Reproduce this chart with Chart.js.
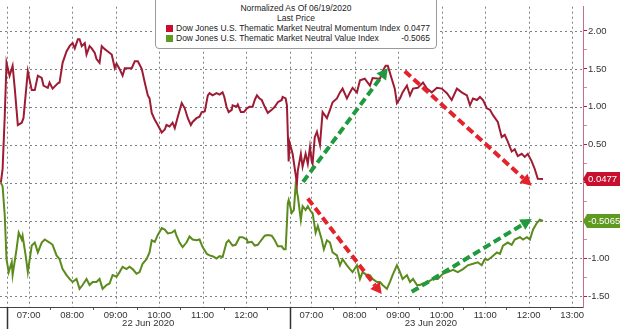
<!DOCTYPE html>
<html>
<head>
<meta charset="utf-8">
<script src="https://cdn.jsdelivr.net/npm/chart.js@4.4.1/dist/chart.umd.min.js"></script>
<style>
  html, body { margin: 0; padding: 0; background: #fff; }
  #wrap { position: relative; width: 620px; height: 329px; overflow: hidden; }
  #legend {
    position: absolute; left: 155px; top: -6px; width: 280px; height: 53px;
    background: #fff; border: 1px solid #9a9a9a; border-radius: 4px;
    font: 8.5px "Liberation Sans", Arial, sans-serif; color: #222;
  }
  #legend .t { text-align: center; line-height: 10px; }
  #legend .t:first-child { margin-top: 8px; }
  #legend .row { display: flex; align-items: center; line-height: 10px; margin-left: 10px; }
  #legend .sw { width: 7px; height: 7px; margin-right: 3px; }
  #legend .val { margin-left: auto; margin-right: 6px; }
</style>
</head>
<body>
<div id="wrap">
  <canvas id="chart" width="620" height="329"></canvas>
  <div id="legend"></div>
</div>
<script>
// series (clock time in hours, value) -- 22 Jun then 23 Jun
const momentum22 = [
  [6.36,0.00],[6.40,0.18],[6.45,0.89],[6.49,1.58],[6.56,1.41],[6.63,1.54],[6.68,1.24],[6.75,0.76],
  [6.84,0.79],[6.88,0.85],[6.98,1.47],[7.07,1.22],[7.14,1.22],[7.21,1.41],[7.30,1.38],[7.34,1.28],
  [7.44,1.25],[7.48,1.32],[7.55,1.24],[7.67,1.31],[7.71,1.32],[7.78,1.58],[7.87,1.73],[7.94,1.80],
  [8.01,1.84],[8.06,1.77],[8.13,1.89],[8.17,1.89],[8.22,1.80],[8.29,1.84],[8.33,1.69],[8.40,1.80],
  [8.45,1.77],[8.52,1.71],[8.56,1.63],[8.63,1.58],[8.68,1.80],[8.75,1.76],[8.82,1.73],[8.91,1.69],
  [8.98,1.51],[9.02,1.57],[9.09,1.50],[9.16,1.41],[9.21,1.51],[9.28,1.51],[9.37,1.51],[9.44,1.60],
  [9.51,1.60],[9.60,1.50],[9.67,1.32],[9.74,1.15],[9.78,1.11],[9.83,0.92],[9.90,0.83],[9.97,0.76],
  [10.06,0.66],[10.13,0.70],[10.17,0.76],[10.24,0.74],[10.31,0.79],[10.36,0.72],[10.43,0.87],[10.52,1.05],
  [10.59,0.98],[10.66,0.85],[10.73,0.76],[10.77,0.80],[10.86,0.85],[10.93,0.87],[10.98,0.93],[11.05,0.94],
  [11.12,1.15],[11.16,1.18],[11.23,1.15],[11.32,1.18],[11.39,1.16],[11.46,1.19],[11.50,1.13],[11.55,1.00],
  [11.60,0.93],[11.67,0.96],[11.69,1.02],[11.78,1.00],[11.81,1.03],[11.88,0.93],[11.95,0.93],[12.02,0.98],
  [12.08,1.00],[12.15,1.00],[12.20,1.09],[12.25,1.15],[12.31,1.11],[12.36,1.09],[12.43,1.00],[12.50,0.92],
  [12.59,0.96],[12.66,1.00],[12.73,1.06],[12.82,1.09],[12.84,1.13],[12.91,1.11],[12.94,1.02]
];
const momentum23 = [
  [6.48,0.28],[6.50,0.53],[6.57,0.38],[6.67,-0.01],[6.69,0.16],[6.76,0.38],[6.80,0.21],[6.87,0.38],
  [6.92,0.25],[6.97,0.47],[7.01,0.28],[7.03,0.25],[7.08,0.60],[7.13,0.67],[7.20,0.50],[7.26,0.93],
  [7.36,0.85],[7.43,0.96],[7.49,1.06],[7.59,1.11],[7.66,1.19],[7.72,1.24],[7.82,1.11],[7.89,1.19],
  [7.95,1.25],[8.05,1.19],[8.12,1.35],[8.23,1.37],[8.35,1.28],[8.41,1.38],[8.58,1.37],[8.64,1.47],
  [8.71,1.54],[8.76,1.54],[8.85,1.37],[8.92,1.24],[8.97,1.05],[9.04,1.11],[9.10,1.19],[9.20,1.28],
  [9.27,1.15],[9.34,1.24],[9.45,1.25],[9.57,1.32],[9.66,1.24],[9.77,1.19],[9.89,1.25],[10.00,1.24],
  [10.12,1.18],[10.23,1.09],[10.35,1.24],[10.46,1.19],[10.58,1.15],[10.65,1.02],[10.72,1.11],[10.81,1.09],
  [10.88,1.13],[10.95,1.09],[11.04,0.98],[11.11,0.96],[11.18,0.89],[11.29,0.80],[11.38,0.60],[11.45,0.63],
  [11.52,0.54],[11.61,0.41],[11.68,0.44],[11.75,0.35],[11.84,0.38],[11.91,0.34],[11.98,0.38],[12.07,0.28],
  [12.14,0.18],[12.21,0.05],[12.33,0.0477]
];
const value22 = [
  [6.36,0.00],[6.40,-0.05],[6.45,-0.44],[6.49,-1.01],[6.54,-1.18],[6.61,-1.05],[6.63,-1.22],[6.72,-0.88],
  [6.77,-0.66],[6.84,-0.75],[6.86,-0.70],[6.93,-0.96],[6.98,-1.18],[7.07,-0.83],[7.14,-0.79],[7.21,-0.92],
  [7.30,-0.79],[7.37,-0.75],[7.48,-0.79],[7.55,-0.82],[7.64,-0.96],[7.71,-1.01],[7.78,-1.14],[7.87,-1.22],
  [7.94,-1.27],[8.01,-1.31],[8.10,-1.27],[8.17,-1.40],[8.24,-1.35],[8.33,-1.27],[8.40,-1.35],[8.47,-1.31],
  [8.56,-1.31],[8.63,-1.27],[8.70,-1.40],[8.79,-1.35],[8.86,-1.33],[8.93,-1.22],[9.02,-1.24],[9.09,-1.18],
  [9.16,-1.11],[9.25,-1.14],[9.32,-1.11],[9.39,-1.14],[9.48,-1.20],[9.55,-1.18],[9.62,-1.07],[9.71,-1.01],
  [9.78,-0.92],[9.83,-0.76],[9.90,-0.78],[9.97,-0.69],[10.06,-0.60],[10.13,-0.62],[10.20,-0.67],[10.29,-0.66],
  [10.36,-0.63],[10.40,-0.70],[10.47,-0.79],[10.54,-0.85],[10.63,-0.79],[10.70,-0.71],[10.77,-0.75],[10.86,-0.76],
  [10.93,-0.75],[11.00,-0.85],[11.10,-0.94],[11.16,-0.96],[11.23,-0.97],[11.32,-1.00],[11.39,-0.97],[11.46,-0.98],
  [11.55,-0.79],[11.60,-0.76],[11.69,-0.83],[11.76,-0.82],[11.85,-0.72],[11.92,-0.72],[12.02,-0.75],[12.04,-0.79],
  [12.13,-0.78],[12.20,-0.83],[12.27,-0.82],[12.36,-0.75],[12.43,-0.70],[12.50,-0.69],[12.59,-0.70],[12.66,-0.76],
  [12.73,-0.84],[12.82,-0.84],[12.87,-0.88],[12.91,-0.88],[12.94,-0.53]
];
const value23 = [
  [6.46,-0.27],[6.48,-0.23],[6.55,-0.40],[6.60,-0.36],[6.64,-0.04],[6.69,-0.18],[6.76,-0.49],[6.80,-0.31],
  [6.87,-0.36],[6.92,-0.31],[6.99,-0.38],[7.03,-0.40],[7.10,-0.66],[7.15,-0.57],[7.24,-0.75],[7.29,-0.88],
  [7.36,-0.76],[7.43,-0.79],[7.49,-0.92],[7.59,-0.96],[7.66,-1.09],[7.72,-1.01],[7.82,-1.09],[7.89,-1.14],
  [7.95,-1.18],[8.05,-1.09],[8.12,-1.27],[8.18,-1.18],[8.28,-1.22],[8.35,-1.22],[8.41,-1.27],[8.51,-1.31],
  [8.58,-1.31],[8.64,-1.35],[8.74,-1.40],[8.81,-1.31],[8.87,-1.22],[8.97,-1.09],[9.04,-1.18],[9.10,-1.27],
  [9.20,-1.22],[9.27,-1.31],[9.34,-1.27],[9.43,-1.35],[9.50,-1.35],[9.57,-1.33],[9.68,-1.31],[9.80,-1.27],
  [9.91,-1.27],[10.03,-1.20],[10.14,-1.18],[10.26,-1.15],[10.37,-1.18],[10.49,-1.14],[10.60,-1.09],[10.72,-1.07],
  [10.83,-1.05],[10.92,-1.09],[10.99,-1.01],[11.06,-1.02],[11.15,-0.98],[11.27,-0.92],[11.34,-0.94],[11.41,-0.83],
  [11.52,-0.79],[11.61,-0.82],[11.68,-0.75],[11.80,-0.72],[11.87,-0.75],[11.96,-0.72],[12.03,-0.75],[12.10,-0.62],
  [12.19,-0.53],[12.26,-0.49],[12.33,-0.5065]
];

const seriesNames = [
  'Dow Jones U.S. Thematic Market Neutral Momentum Index',
  'Dow Jones U.S. Thematic Market Neutral Value Index'
];
const lastValues = ['0.0477', '-0.5065'];
const hourLabels22 = ['07:00','08:00','09:00','10:00','11:00','12:00'];
const hourLabels23 = ['07:00','08:00','09:00','10:00','11:00','12:00','13:00'];
const dayLabels = ['22 Jun 2020', '23 Jun 2020'];
const yLabels = [-1.5, -1.0, -0.5, 0, 0.5, 1.0, 1.5, 2.0];
const legendTitle = ['Normalized As Of 06/19/2020', 'Last Price'];

// trend arrows: [colour, day, start time, start value, day, end time, end value]
const arrows = [
  ['green', 1, 6.81, 0.01, 1, 8.76, 1.51],
  ['red', 1, 6.92, -0.21, 1, 8.62, -1.47],
  ['red', 1, 9.15, 1.47, 1, 12.07, -0.04],
  ['green', 1, 9.31, -1.44, 1, 12.07, -0.48]
];

const RED = '#9e1b34';
const GREEN = '#5b8b1d';
const TAG_RED = '#c8102e';
const TAG_GREEN = '#5e9a1f';
const GRID = '#808080';
const FONT = '"Liberation Sans", Arial, sans-serif';

// session axis: 22 Jun 06:30 -> 0, 23 Jun 06:30 -> 6.5 (overnight gap removed)
const SESSION_OPEN = 6.5, SESSION_CLOSE = 13;
function toX(day, t) { return day === 0 ? t - SESSION_OPEN : t; }
function pts(day, arr) { return arr.map(p => ({ x: toX(day, p[0]), y: p[1] })); }
function hourOf(lbl) { return parseInt(lbl.split(':')[0], 10); }

// legend
const lg = document.getElementById('legend');
legendTitle.forEach(s => {
  const d = document.createElement('div'); d.className = 't'; d.textContent = s; lg.appendChild(d);
});
[TAG_RED, TAG_GREEN].forEach((c, i) => {
  const r = document.createElement('div'); r.className = 'row';
  r.innerHTML = '<span class="sw" style="background:' + c + '"></span><span></span><span class="val"></span>';
  r.children[1].textContent = seriesNames[i];
  r.children[2].textContent = lastValues[i];
  lg.appendChild(r);
});

// x ticks: hour labels + half-hour minor ticks + session separators
const xTicks = [];
[hourLabels22, hourLabels23].forEach((labels, d) => {
  xTicks.push({ value: toX(d, SESSION_OPEN), txt: '', grid: true });
  labels.forEach(l => {
    const v = toX(d, hourOf(l));
    xTicks.push({ value: v, txt: l, grid: true });
    if (hourOf(l) < SESSION_CLOSE) xTicks.push({ value: v + 0.5, txt: '', grid: false });
  });
});
const yTicks = [];
for (let i = 0; i < yLabels.length; i++) {
  yTicks.push({ value: yLabels[i], txt: yLabels[i].toFixed(2), grid: true });
  if (i < yLabels.length - 1) yTicks.push({ value: (yLabels[i] + yLabels[i + 1]) / 2, txt: '', grid: false });
}

// dotted grid: short solid segments so it survives any rendering quirk
function dotted(ctx, x1, y1, x2, y2) {
  const len = Math.hypot(x2 - x1, y2 - y1), step = 5, on = 2;
  const ux = (x2 - x1) / len, uy = (y2 - y1) / len;
  ctx.beginPath();
  for (let s = 0; s < len; s += step) {
    const e = Math.min(s + on, len);
    ctx.moveTo(x1 + ux * s, y1 + uy * s);
    ctx.lineTo(x1 + ux * e, y1 + uy * e);
  }
  ctx.stroke();
}

const extras = {
  id: 'extras',
  beforeDatasetsDraw(chart) {
    const { ctx, chartArea: ca, scales: { x, y } } = chart;
    ctx.save();
    ctx.strokeStyle = GRID; ctx.lineWidth = 1; ctx.setLineDash([]);
    xTicks.filter(t => t.grid).forEach(t => {
      const px = Math.round(x.getPixelForValue(t.value)) + 0.5;
      dotted(ctx, px, ca.top, px, ca.bottom);
    });
    yTicks.filter(t => t.grid).forEach(t => {
      const py = Math.round(y.getPixelForValue(t.value)) + 0.5;
      dotted(ctx, ca.left, py, ca.right, py);
    });
    ctx.restore();
  },
  afterDatasetsDraw(chart) {
    const { ctx, scales: { x, y } } = chart;
    arrows.forEach(a => {
      const col = a[0] === 'red' ? '#e3222b' : '#1f9a3d';
      const x1 = x.getPixelForValue(toX(a[1], a[2])), y1 = y.getPixelForValue(a[3]);
      const x2 = x.getPixelForValue(toX(a[4], a[5])), y2 = y.getPixelForValue(a[6]);
      const ang = Math.atan2(y2 - y1, x2 - x1);
      const hl = 11, hw = 6;
      const bx = x2 - Math.cos(ang) * hl, by = y2 - Math.sin(ang) * hl;
      ctx.save();
      ctx.strokeStyle = col; ctx.fillStyle = col;
      ctx.lineWidth = 4; ctx.setLineDash([8, 4]);
      ctx.beginPath(); ctx.moveTo(x1, y1); ctx.lineTo(bx, by); ctx.stroke();
      ctx.setLineDash([]);
      ctx.beginPath();
      ctx.moveTo(x2, y2);
      ctx.lineTo(bx + Math.sin(ang) * hw, by - Math.cos(ang) * hw);
      ctx.lineTo(bx - Math.sin(ang) * hw, by + Math.cos(ang) * hw);
      ctx.closePath(); ctx.fill();
      ctx.restore();
    });
  },
  afterDraw(chart) {
    const { ctx, chartArea: ca, scales: { x, y } } = chart;
    ctx.save();
    // day separators below the axis
    ctx.strokeStyle = '#333'; ctx.lineWidth = 1.5;
    [toX(0, SESSION_OPEN), toX(1, SESSION_OPEN)].forEach(v => {
      const px = Math.round(x.getPixelForValue(v)) + 0.5;
      ctx.beginPath(); ctx.moveTo(px, ca.bottom); ctx.lineTo(px, chart.height); ctx.stroke();
    });
    // day labels
    ctx.fillStyle = '#333'; ctx.font = '9.5px ' + FONT;
    ctx.textAlign = 'center'; ctx.textBaseline = 'middle';
    dayLabels.forEach((s, d) => {
      const mid = (toX(d, SESSION_OPEN) + toX(d, SESSION_CLOSE)) / 2;
      ctx.fillText(s, x.getPixelForValue(mid), 323);
    });
    // last value tags
    const last = [momentum23[momentum23.length - 1][1], value23[value23.length - 1][1]];
    [TAG_RED, TAG_GREEN].forEach((c, i) => {
      const yc = y.getPixelForValue(last[i]);
      const x0 = ca.right;
      ctx.fillStyle = c;
      ctx.beginPath();
      ctx.moveTo(x0, yc); ctx.lineTo(x0 + 4, yc - 7); ctx.lineTo(chart.width, yc - 7);
      ctx.lineTo(chart.width, yc + 7); ctx.lineTo(x0 + 4, yc + 7); ctx.closePath(); ctx.fill();
      ctx.fillStyle = '#fff'; ctx.textAlign = 'left';
      ctx.fillText(lastValues[i], x0 + 5, yc + 0.5);
    });
    ctx.restore();
  }
};

new Chart(document.getElementById('chart'), {
  type: 'line',
  data: {
    datasets: [
      { label: seriesNames[0], data: pts(0, momentum22).concat(pts(1, momentum23)), borderColor: RED, borderWidth: 2 },
      { label: seriesNames[1], data: pts(0, value22).concat(pts(1, value23)), borderColor: GREEN, borderWidth: 2 }
    ]
  },
  options: {
    responsive: false,
    animation: false,
    parsing: false,
    layout: { padding: 0 },
    elements: { point: { radius: 0 }, line: { tension: 0 } },
    plugins: { legend: { display: false }, tooltip: { enabled: false } },
    scales: {
      x: {
        type: 'linear', min: -0.16, max: 13.25,
        afterBuildTicks: s => { s.ticks = xTicks.map(t => Object.assign({}, t)); },
        afterFit: s => { s.height = 22; },
        ticks: {
          autoSkip: false, maxRotation: 0, padding: 0,
          font: { family: FONT, size: 9.5 }, color: '#333',
          callback: (v, i, t) => t[i].txt
        },
        grid: {
          drawOnChartArea: false,
          tickColor: c => (c.tick && !c.tick.grid ? '#555' : 'rgba(0,0,0,0)'),
          tickLength: 3
        },
        border: { color: '#444', width: 1 }
      },
      y: {
        type: 'linear', position: 'right', min: -1.64, max: 2.32,
        afterBuildTicks: s => { s.ticks = yTicks.map(t => Object.assign({}, t)); },
        afterFit: s => { s.width = 37; },
        ticks: {
          autoSkip: false, padding: 1,
          font: { family: FONT, size: 9.5 }, color: '#333',
          callback: (v, i, t) => t[i].txt
        },
        grid: {
          drawOnChartArea: false,
          tickColor: c => (c.tick && c.tick.grid ? '#c8102e' : '#d7889a'),
          tickLength: 4
        },
        border: { color: '#c5708a', width: 1 }
      }
    }
  },
  plugins: [extras]
});
</script>
</body>
</html>
